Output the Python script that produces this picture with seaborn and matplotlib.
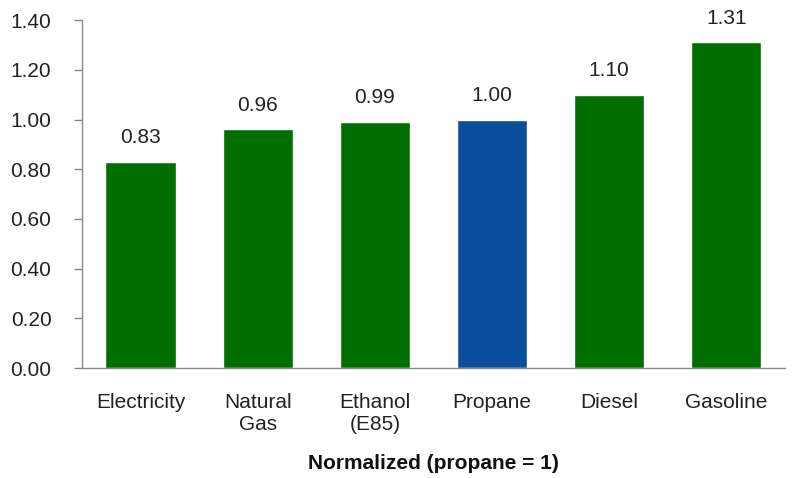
import matplotlib
matplotlib.use("Agg")
import matplotlib.pyplot as plt
import seaborn as sns
import pandas as pd

categories = ["Electricity", "Natural\nGas", "Ethanol\n(E85)", "Propane", "Diesel", "Gasoline"]
values = [0.83, 0.96, 0.99, 1.00, 1.10, 1.31]
colors = ["#006f00", "#006f00", "#006f00", "#0b4f9c", "#006f00", "#006f00"]
yticks = [0.0, 0.2, 0.4, 0.6, 0.8, 1.0, 1.2, 1.4]

sns.set_theme(style="white")
plt.rcParams['font.family'] = ['Liberation Sans', 'DejaVu Sans']

df = pd.DataFrame({"cat": categories, "val": values})
fig = plt.figure(figsize=(7.96, 4.78), dpi=100)
ax = fig.add_axes([0.103, 0.230, 0.883, 0.728])
sns.barplot(data=df, x="cat", y="val", hue="cat", palette=colors, legend=False,
            width=0.6, ax=ax, saturation=1)

ax.set_ylim(0, 1.4)
ax.set_yticks(yticks)
ax.set_yticklabels([f"{v:.2f}" for v in yticks], fontsize=15, color="#222222")
ax.tick_params(axis="x", labelsize=15, labelcolor="#222222", length=0, pad=18)
ax.tick_params(axis="y", left=True, length=6, width=1, color="#888888", direction="out", pad=16)
for s in ["top", "right"]:
    ax.spines[s].set_visible(False)
for s in ["left", "bottom"]:
    ax.spines[s].set_color("#888888")
    ax.spines[s].set_linewidth(1)
ax.set_xlim(-0.5, 5.5)

for i, v in enumerate(values):
    ax.text(i, v + 0.06, f"{v:.2f}", ha="center", va="bottom", fontsize=15, color="#222222")

ax.set_ylabel("")
ax.set_xlabel("Normalized (propane = 1)", fontsize=15, fontweight="bold", color="#111111", labelpad=14)

fig.savefig("out.png", dpi=100)
